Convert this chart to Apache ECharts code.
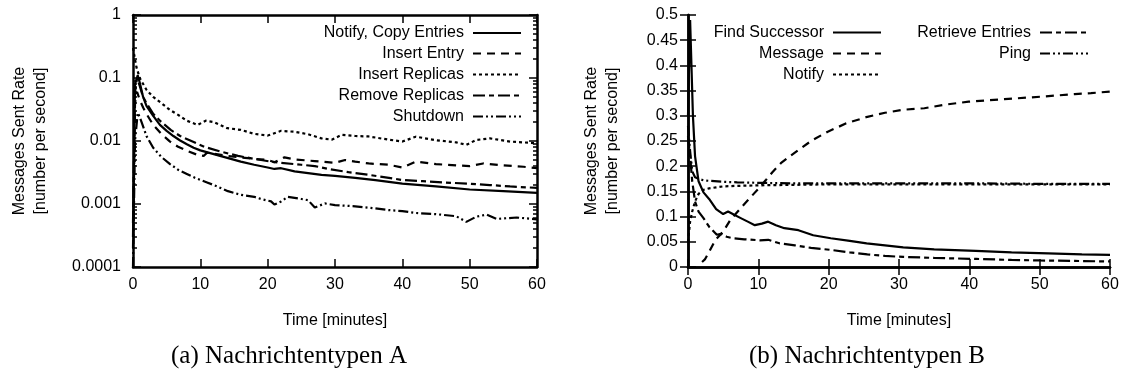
<!DOCTYPE html>
<html><head><meta charset="utf-8">
<script src="https://cdn.jsdelivr.net/npm/echarts@6/dist/echarts.min.js"></script>
<style>html,body{margin:0;padding:0;background:#fff}#c{width:1124px;height:378px}</style>
</head><body><div id="c"></div>
<script>
// ---------- Data: chart A (log scale) ----------
const tNotifyCopy = [0, 0.3, 0.7, 1, 1.5, 2, 3, 4, 5, 6, 7, 8, 9, 10, 12, 14, 16, 18, 20, 21, 22, 24, 26, 28, 30, 33, 36, 40, 45, 50, 55, 60];
const vNotifyCopy = [0.0003, 0.08, 0.11, 0.085, 0.05, 0.036, 0.025, 0.018, 0.0145, 0.012, 0.0102, 0.0089, 0.0078, 0.0071, 0.0062, 0.0054, 0.0047, 0.0042, 0.0038, 0.0036, 0.0037, 0.0033, 0.0031, 0.0029, 0.0028, 0.0026, 0.0024, 0.0021, 0.0019, 0.0017, 0.0016, 0.0015];

const tInsertEntry = [0, 0.3, 0.6, 1, 1.5, 2, 3, 4.2, 5.5, 6.7, 8, 9.6, 10.5, 11, 12, 14, 16, 18, 20, 21, 22.5, 24, 27, 30, 31.5, 33, 35, 38, 40, 42, 45, 48, 50, 52, 55, 58, 60];
const vInsertEntry = [0.0002, 0.04, 0.06, 0.045, 0.034, 0.027, 0.018, 0.013, 0.0098, 0.0081, 0.0070, 0.0060, 0.0058, 0.0065, 0.0063, 0.0058, 0.0055, 0.0052, 0.0050, 0.0046, 0.0055, 0.0051, 0.0048, 0.0045, 0.0050, 0.0047, 0.0044, 0.0042, 0.0038, 0.0047, 0.0043, 0.0041, 0.0040, 0.0044, 0.0041, 0.0039, 0.0037];

const tInsertReplicas = [0, 0.5, 1, 2, 3, 4.2, 5.5, 6.7, 8, 9.6, 10.8, 12, 14, 16, 18, 20, 22, 24, 26, 28, 29.5, 31, 33, 35, 38, 40, 42, 45, 48, 49.5, 51, 53, 56, 60];
const vInsertReplicas = [0.3, 0.15, 0.1, 0.065, 0.05, 0.04, 0.031, 0.026, 0.021, 0.018, 0.021, 0.02, 0.016, 0.015, 0.013, 0.0122, 0.0145, 0.014, 0.0128, 0.011, 0.0105, 0.0125, 0.012, 0.0118, 0.0105, 0.0098, 0.0117, 0.0103, 0.0095, 0.0087, 0.0104, 0.011, 0.0098, 0.0092];

const tRemoveReplicas = [0, 0.3, 0.6, 1, 1.5, 2, 3, 4, 5.6, 7, 8.5, 10.6, 13, 15.6, 18, 20.5, 22, 25, 27, 29, 32, 35, 38, 40, 43, 46, 50, 53, 56, 60];
const vRemoveReplicas = [0.0005, 0.06, 0.1, 0.075, 0.05, 0.04, 0.027, 0.021, 0.015, 0.012, 0.0102, 0.0081, 0.0068, 0.0058, 0.0052, 0.0047, 0.0045, 0.0042, 0.0040, 0.0036, 0.0032, 0.0029, 0.0026, 0.0024, 0.0023, 0.0022, 0.0021, 0.0020, 0.0019, 0.0018];

const tShutdown = [0, 0.3, 0.7, 1, 1.5, 2, 3, 4.2, 5.5, 6.7, 8, 9.2, 11, 12.5, 14.1, 16, 18, 19, 20.5, 21, 22, 23, 25, 26, 27, 28.5, 30, 33, 36, 38, 40, 42, 45, 48, 49.5, 51, 52.5, 54, 57, 60];
const vShutdown = [0.0001, 0.01, 0.028, 0.024, 0.017, 0.012, 0.0078, 0.0056, 0.0043, 0.0035, 0.003, 0.0026, 0.0022, 0.0019, 0.0016, 0.0014, 0.0013, 0.0012, 0.0011, 0.00098, 0.0011, 0.0013, 0.0012, 0.00115, 0.00088, 0.00102, 0.00096, 0.00092, 0.00085, 0.0008, 0.00077, 0.00072, 0.00069, 0.00064, 0.00052, 0.00063, 0.00068, 0.00058, 0.00061, 0.00057];

// ---------- Data: chart B (linear) ----------
const tFindSuccessor = [0, 0.3, 0.7, 1, 1.5, 2.2, 3, 4, 5, 5.7, 6.5, 7.5, 8.5, 9.5, 10.5, 11.4, 12.5, 13.7, 15.7, 17.8, 20.3, 23, 25.4, 28, 30.6, 35, 40.9, 46, 51.2, 56, 60];
const vFindSuccessor = [0.3, 0.49, 0.3, 0.22, 0.17, 0.148, 0.135, 0.115, 0.105, 0.11, 0.104, 0.097, 0.09, 0.083, 0.086, 0.09, 0.083, 0.077, 0.073, 0.063, 0.057, 0.052, 0.047, 0.043, 0.039, 0.035, 0.032, 0.029, 0.027, 0.025, 0.024];

const tMessage = [2, 2.4, 3, 3.9, 5, 6, 7.5, 9, 10, 11.1, 12, 13.2, 14.5, 15.7, 17.5, 19.8, 22.5, 25.5, 28, 30.6, 33.6, 36.5, 39.9, 45, 50.2, 55, 57.3, 60];
const vMessage = [0.01, 0.015, 0.03, 0.054, 0.07, 0.093, 0.117, 0.14, 0.155, 0.173, 0.188, 0.206, 0.22, 0.232, 0.25, 0.268, 0.285, 0.298, 0.306, 0.312, 0.315, 0.322, 0.328, 0.333, 0.338, 0.343, 0.345, 0.348];

const tNotify = [0, 0.3, 0.6, 1, 1.5, 2.2, 3, 4, 5, 7, 10, 15, 20, 30, 40, 50, 60];
const vNotify = [0.05, 0.09, 0.11, 0.13, 0.145, 0.153, 0.156, 0.158, 0.16, 0.161, 0.162, 0.163, 0.164, 0.164, 0.164, 0.164, 0.164];

const tRetrieveEntries = [0, 0.3, 0.6, 1, 1.5, 2.2, 3, 4.1, 4.7, 5.5, 6.4, 8, 10.2, 11.4, 13, 15.2, 17.5, 20.3, 23, 25.5, 28, 30.6, 35, 41, 46, 50, 55, 60];
const vRetrieveEntries = [0.26, 0.22, 0.17, 0.13, 0.11, 0.097, 0.08, 0.064, 0.066, 0.06, 0.057, 0.055, 0.053, 0.054, 0.047, 0.043, 0.038, 0.034, 0.029, 0.025, 0.022, 0.02, 0.018, 0.016, 0.014, 0.013, 0.012, 0.011];

const tPing = [0, 0.3, 0.6, 1, 1.5, 2.2, 3, 5, 7, 10, 15, 20, 30, 40, 50, 60];
const vPing = [0.28, 0.23, 0.19, 0.178, 0.175, 0.172, 0.171, 0.169, 0.168, 0.167, 0.166, 0.166, 0.166, 0.166, 0.165, 0.165];

// ---------- Tick labels / names ----------
const xTickLabels = ['0', '10', '20', '30', '40', '50', '60'];
const logTickLabels = ['1', '0.1', '0.01', '0.001', '0.0001'];
const linTickLabels = ['0', '0.05', '0.1', '0.15', '0.2', '0.25', '0.3', '0.35', '0.4', '0.45', '0.5'];
const namesA = ['Notify, Copy Entries', 'Insert Entry', 'Insert Replicas', 'Remove Replicas', 'Shutdown'];
const namesB = ['Find Successor', 'Message', 'Notify', 'Retrieve Entries', 'Ping'];
const yTitle = 'Messages Sent Rate\n[number per second]';
const xTitle = 'Time [minutes]';
const captions = ['(a) Nachrichtentypen A', '(b) Nachrichtentypen B'];

// ---------- build ----------
const zip = (t, v) => t.map((x, i) => [x, v[i]]);
const SANS = 'Liberation Sans';
const FS = 16;
const dashes = ['solid', [8, 6], [3, 3], [12, 4, 5, 4], [10, 3, 2, 3, 2, 3]];
const logMajor = logTickLabels.map(Number);
const logMinor = [];
[0.0001, 0.001, 0.01, 0.1].forEach(d => { for (let k = 2; k <= 9; k++) logMinor.push(+(d * k).toPrecision(3)); });
const linTicks = linTickLabels.map(Number);

const dataA = [zip(tNotifyCopy, vNotifyCopy), zip(tInsertEntry, vInsertEntry), zip(tInsertReplicas, vInsertReplicas), zip(tRemoveReplicas, vRemoveReplicas), zip(tShutdown, vShutdown)];
const dataB = [zip(tFindSuccessor, vFindSuccessor), zip(tMessage, vMessage), zip(tNotify, vNotify), zip(tRetrieveEntries, vRetrieveEntries), zip(tPing, vPing)];

const AX = { lineStyle: { color: '#000', width: 2.5 } };
function xAxes(grid) {
  return [
    { gridIndex: grid, type: 'value', min: 0, max: 60, interval: 10, position: 'bottom',
      axisLine: AX, axisTick: { inside: true, length: 8, lineStyle: { color: '#000', width: 1.5 } },
      axisLabel: { color: '#000', fontFamily: SANS, fontSize: FS, margin: 10, formatter: v => xTickLabels[Math.round(v / 10)] },
      splitLine: { show: false },
      name: xTitle, nameLocation: 'middle', nameGap: 46, nameTextStyle: { color: '#000', fontFamily: SANS, fontSize: FS } },
    { gridIndex: grid, type: 'value', min: 0, max: 60, interval: 10, position: 'top',
      axisLine: AX, axisTick: { inside: true, length: 8, lineStyle: { color: '#000', width: 1.5 } },
      axisLabel: { show: false }, splitLine: { show: false } }
  ];
}
const yNameStyle = { color: '#000', fontFamily: SANS, fontSize: FS, lineHeight: 21 };
const tickStyle = { color: '#000', width: 1.5 };
const yAxes = [
  // chart A (grid 0): 0 left major, 1 left minor, 2 right major, 3 right minor
  { gridIndex: 0, type: 'log', logBase: 10, min: 0.0001, max: 1, position: 'left',
    axisLine: AX, axisTick: { inside: true, length: 8, customValues: logMajor, lineStyle: tickStyle },
    axisLabel: { color: '#000', fontFamily: SANS, fontSize: FS, margin: 12, customValues: logMajor,
      formatter: v => { const i = logMajor.findIndex(m => Math.abs(Math.log10(m) - Math.log10(v)) < 1e-6); return i >= 0 ? logTickLabels[i] : ''; } },
    splitLine: { show: false },
    name: yTitle, nameLocation: 'middle', nameRotate: 90, nameGap: 82, nameTextStyle: yNameStyle },
  { gridIndex: 0, type: 'log', logBase: 10, min: 0.0001, max: 1, position: 'left',
    axisLine: { show: false }, axisTick: { inside: true, length: 4, customValues: logMinor, lineStyle: tickStyle },
    axisLabel: { show: false }, splitLine: { show: false } },
  { gridIndex: 0, type: 'log', logBase: 10, min: 0.0001, max: 1, position: 'right',
    axisLine: AX, axisTick: { inside: true, length: 8, customValues: logMajor, lineStyle: tickStyle },
    axisLabel: { show: false }, splitLine: { show: false } },
  { gridIndex: 0, type: 'log', logBase: 10, min: 0.0001, max: 1, position: 'right',
    axisLine: { show: false }, axisTick: { inside: true, length: 4, customValues: logMinor, lineStyle: tickStyle },
    axisLabel: { show: false }, splitLine: { show: false } },
  // chart B (grid 1): 4 left, 5 right
  { gridIndex: 1, type: 'value', min: 0, max: 0.5, interval: 0.05, position: 'left',
    axisLine: AX, axisTick: { inside: true, length: 8, lineStyle: tickStyle },
    axisLabel: { color: '#000', fontFamily: SANS, fontSize: FS, margin: 10,
      formatter: v => { const i = linTicks.findIndex(m => Math.abs(m - v) < 1e-9); return i >= 0 ? linTickLabels[i] : ''; } },
    splitLine: { show: false },
    name: yTitle, nameLocation: 'middle', nameRotate: 90, nameGap: 65, nameTextStyle: yNameStyle },
  { gridIndex: 1, type: 'value', min: 0, max: 0.5, interval: 0.05, position: 'right',
    axisLine: AX, axisTick: { inside: true, length: 8, lineStyle: tickStyle },
    axisLabel: { show: false }, splitLine: { show: false } }
];

const series = [];
namesA.forEach((n, i) => series.push({ name: n, type: 'line', xAxisIndex: 0, yAxisIndex: 0, data: dataA[i],
  symbol: 'none', showSymbol: false, animation: false, z: 3,
  lineStyle: { color: '#000', width: 2.2, type: dashes[i] }, itemStyle: { color: '#000' } }));
namesB.forEach((n, i) => series.push({ name: n, type: 'line', xAxisIndex: 2, yAxisIndex: 4, data: dataB[i],
  symbol: 'none', showSymbol: false, animation: false, z: 3,
  lineStyle: { color: '#000', width: 2.2, type: dashes[i] }, itemStyle: { color: '#000' } }));

function legendItem(name, right, centerY) {
  return { data: [name], orient: 'vertical', right: right, top: centerY - 9, align: 'right',
    itemWidth: 48, itemHeight: 14, selectedMode: false, padding: 0,
    itemStyle: { opacity: 0, color: 'transparent', borderWidth: 0 },
    textStyle: { color: '#000', fontFamily: SANS, fontSize: FS, padding: [0, 4, 0, 0] } };
}
const rowsA = [34, 54.5, 75.5, 96.5, 117.5];
const legends = [];
namesA.forEach((n, i) => legends.push(legendItem(n, 602, rowsA[i])));
legends.push(legendItem(namesB[0], 242, 33.5));
legends.push(legendItem(namesB[1], 242, 54.5));
legends.push(legendItem(namesB[2], 242, 75.5));
legends.push(legendItem(namesB[3], 35, 33.5));
legends.push(legendItem(namesB[4], 35, 54.5));

const capStyle = { color: '#000', fontFamily: 'Liberation Serif', fontSize: 25, fontWeight: 'normal' };
const option = {
  backgroundColor: '#fff',
  animation: false,
  title: [
    { text: captions[0], left: 284, top: 339, textAlign: 'center', textStyle: capStyle },
    { text: captions[1], left: 862, top: 339, textAlign: 'center', textStyle: capStyle }
  ],
  grid: [
    { left: 133, right: 1124 - 537, top: 15, bottom: 378 - 267 },
    { left: 688, right: 1124 - 1110, top: 15, bottom: 378 - 267 }
  ],
  xAxis: [...xAxes(0), ...xAxes(1)],
  yAxis: yAxes,
  legend: legends,
  series: series
};
const chart = echarts.init(document.getElementById('c'), null, { renderer: 'canvas' });
chart.setOption(option);
</script></body></html>
